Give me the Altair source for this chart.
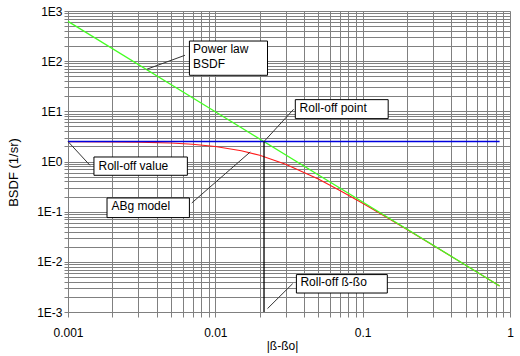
import altair as alt
import pandas as pd

# ---- data ----
# Power law BSDF (green)
pl_x = [0.001, 0.01, 0.1, 0.85]
pl_y = [620, 9.8, 0.156, 0.0033]

# ABg model (red)
abg_x = [0.001, 0.002, 0.003, 0.005, 0.007, 0.01, 0.015, 0.02, 0.03, 0.05,
         0.07, 0.1, 0.15, 0.2, 0.3, 0.5, 0.85]
abg_y = [2.49, 2.465, 2.43, 2.33, 2.2, 1.99, 1.64, 1.33, 0.88, 0.446,
         0.265, 0.147, 0.073, 0.044, 0.0214, 0.0086, 0.0033]

# Roll-off value (blue horizontal) and roll-off point (black vertical)
rolloff_value = 2.5
rolloff_value_x = [0.001, 0.85]
rolloff_x = 0.0214
rolloff_x_y = [0.001, 2.5]

# ---- annotations (data coordinates) ----
box_x = [0.00667, 0.0349, 0.0015, 0.00184, 0.0355]
box_x2 = [0.0226, 0.149, 0.00646, 0.00667, 0.147]
box_y = [52.3, 7.16, 0.531, 0.0762, 0.00239]
box_y2 = [252, 17.1, 1.23, 0.1875, 0.00557]

txt = ["Power law", "BSDF", "Roll-off point", "Roll-off value", "ABg model", "Roll-off ß-ßo"]
txt_x = [0.00706, 0.00706, 0.0373, 0.00161, 0.00197, 0.0378]
txt_y = [172.5, 89.5, 11.5, 0.803, 0.128, 0.00391]

lead_x = [0.00622, 0.034, 0.00141, 0.00692, 0.0335]
lead_y = [131, 11.0, 0.84, 0.149, 0.00368]
lead_x2 = [0.00342, 0.0214, 0.001, 0.01726, 0.0226]
lead_y2 = [68.9, 2.5, 2.5, 1.55, 0.00117]

xvals = [round(m * 10 ** k, 10) for k in (-3, -2, -1) for m in range(1, 10)] + [1]
yvals = [round(m * 10 ** k, 10) for k in (-3, -2, -1, 0, 1, 2) for m in range(1, 10)] + [1000]

FONT = "Liberation Sans"
GRID = "#808080"

major = "abs(log(datum.value)/LN10 - round(log(datum.value)/LN10)) < 0.001"

xscale = alt.Scale(type="log", domain=[0.001, 1], nice=False)
yscale = alt.Scale(type="log", domain=[0.001, 1000], nice=False)

xaxis = alt.Axis(values=xvals, format="~g", labelExpr=f"{major} ? datum.label : ''",
                 grid=True, gridColor=GRID, gridOpacity=1, tickColor=GRID, domainColor=GRID,
                 tickSize=5, labelPadding=10, labelFontSize=12, labelFont=FONT,
                 labelColor="black", labelOverlap=False, labelFlush=False,
                 title="|ß-ßo|", titleFont=FONT, titleFontSize=12, titleFontWeight="normal",
                 titleColor="black", titleX=214, titleY=33, titleBaseline="middle",
                 titleAlign="center")
yaxis = alt.Axis(values=yvals, labelExpr=f"{major} ? '1E' + round(log(datum.value)/LN10) : ''",
                 grid=True, gridColor=GRID, gridOpacity=1, tickColor=GRID, domainColor=GRID,
                 tickSize=4, labelPadding=2, labelFontSize=12, labelFont=FONT,
                 labelColor="black", labelOverlap=False, labelFlush=False,
                 title="BSDF  (1/sr)", titleFont=FONT, titleFontSize=13, titleFontWeight="normal",
                 titleColor="black", titleX=-55, titleY=161, titleAngle=270,
                 titleBaseline="middle", titleAlign="center")

X = alt.X("x:Q", scale=xscale, axis=xaxis)
Y = alt.Y("y:Q", scale=yscale, axis=yaxis)

abg_df = pd.DataFrame({"x": abg_x, "y": abg_y})
pl_df = pd.DataFrame({"x": pl_x, "y": pl_y})
rv_df = pd.DataFrame({"x": rolloff_value_x, "y": [rolloff_value] * 2})
rx_df = pd.DataFrame({"x": [rolloff_x] * 2, "y": rolloff_x_y})

red = alt.Chart(abg_df).mark_line(color="#ff1a1a", strokeWidth=1.1).encode(x=X, y=Y)
green = alt.Chart(pl_df).mark_line(color="#44ff22", strokeWidth=1.3).encode(x=X, y=Y)
blue = alt.Chart(rv_df).mark_line(color="#0000dd", strokeWidth=1.5).encode(x=X, y=Y)
black = alt.Chart(rx_df).mark_line(color="black", strokeWidth=1.3).encode(x=X, y=Y)

lead_df = pd.DataFrame({"x": lead_x, "y": lead_y, "x2": lead_x2, "y2": lead_y2})
leaders = alt.Chart(lead_df).mark_rule(color="#333333", strokeWidth=1).encode(
    x=X, y=Y, x2="x2:Q", y2="y2:Q")

box_df = pd.DataFrame({"x": box_x, "x2": box_x2, "y": box_y, "y2": box_y2})
boxes = alt.Chart(box_df).mark_rect(fill="white", stroke="black", strokeWidth=1).encode(
    x=X, y=Y, x2="x2:Q", y2="y2:Q")

txt_df = pd.DataFrame({"x": txt_x, "y": txt_y, "t": txt})
texts = alt.Chart(txt_df).mark_text(align="left", baseline="middle", font=FONT,
                                    fontSize=12, color="black").encode(x=X, y=Y, text="t:N")

chart = alt.layer(red, green, blue, black, leaders, boxes, texts).properties(
    width=442, height=301,
    autosize=alt.AutoSizeParams(type="none"),
    padding={"left": 68, "top": 11, "right": 10, "bottom": 44},
).configure_view(stroke=None).configure(background="white")

chart.save("out.html", embed_options={"renderer": "svg", "actions": False})
